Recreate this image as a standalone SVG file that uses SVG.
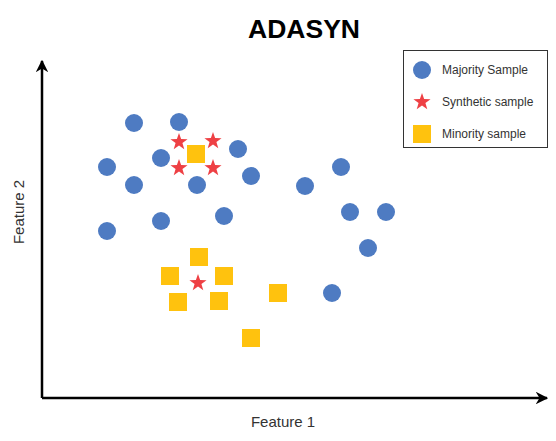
<svg xmlns="http://www.w3.org/2000/svg" xmlns:xlink="http://www.w3.org/1999/xlink" width="556" height="441" viewBox="0 0 556 441">
<style>
.maj{fill:#4E7BC2}
.min{fill:#FFC20E}
.syn{fill:#EE4044}
.lbl{font-family:"Liberation Sans",Arial,sans-serif;font-size:12px;fill:#333333}
.axl{font-family:"Liberation Sans",Arial,sans-serif;font-size:15px;fill:#333333}
.title{font-family:"Liberation Sans",Arial,sans-serif;font-size:26.5px;font-weight:bold;fill:#000000}
.axis{stroke:#000000;stroke-width:2.5;fill:none}
</style>
<defs>
<marker id="arr" viewBox="0 0 10 10" refX="9" refY="5" markerWidth="5" markerHeight="5" orient="auto" markerUnits="strokeWidth">
<path d="M0,0 L10,5 L0,10 L3,5 Z" fill="#000000"/>
</marker>
<circle id="c" r="9"/>
<rect id="s" x="-9" y="-9" width="18" height="18"/>
<polygon id="st" points="0,-9 2.12,-2.91 8.56,-2.78 3.42,1.11 5.29,7.28 0,3.6 -5.29,7.28 -3.42,1.11 -8.56,-2.78 -2.12,-2.91"/>
</defs>
<rect width="556" height="441" fill="#ffffff"/>
<text id="title" class="title" x="304" y="38" text-anchor="middle">ADASYN</text>
<g id="connectors">
<line class="axis" x1="42" y1="398" x2="42" y2="61" marker-end="url(#arr)"/>
<line class="axis" x1="42" y1="398" x2="547" y2="398" marker-end="url(#arr)"/>
</g>
<text id="xlabel" class="axl" x="283" y="427" text-anchor="middle">Feature 1</text>
<text id="ylabel" class="axl" transform="translate(24,212) rotate(-90)" text-anchor="middle">Feature 2</text>
<g id="majority">
<use href="#c" class="maj" x="134" y="123"/>
<use href="#c" class="maj" x="179" y="122"/>
<use href="#c" class="maj" x="161" y="158"/>
<use href="#c" class="maj" x="238" y="149"/>
<use href="#c" class="maj" x="107" y="167"/>
<use href="#c" class="maj" x="251" y="176"/>
<use href="#c" class="maj" x="134" y="185"/>
<use href="#c" class="maj" x="197" y="185"/>
<use href="#c" class="maj" x="161" y="221"/>
<use href="#c" class="maj" x="224" y="216"/>
<use href="#c" class="maj" x="107" y="231"/>
<use href="#c" class="maj" x="341" y="167"/>
<use href="#c" class="maj" x="305" y="186"/>
<use href="#c" class="maj" x="350" y="212"/>
<use href="#c" class="maj" x="386" y="212"/>
<use href="#c" class="maj" x="368" y="248"/>
<use href="#c" class="maj" x="332" y="293"/>
</g>
<g id="minority">
<use href="#s" class="min" x="196" y="154"/>
<use href="#s" class="min" x="199" y="257"/>
<use href="#s" class="min" x="170" y="276"/>
<use href="#s" class="min" x="224" y="276"/>
<use href="#s" class="min" x="178" y="302"/>
<use href="#s" class="min" x="219" y="301"/>
<use href="#s" class="min" x="278" y="293"/>
<use href="#s" class="min" x="251" y="338"/>
</g>
<g id="synthetic">
<use href="#st" class="syn" x="179" y="142"/>
<use href="#st" class="syn" x="213" y="141"/>
<use href="#st" class="syn" x="179" y="168"/>
<use href="#st" class="syn" x="213" y="168"/>
<use href="#st" class="syn" x="198" y="283"/>
</g>
<g id="legend">
<rect x="403.5" y="50.5" width="144" height="97" fill="#ffffff" stroke="#333333" stroke-width="1"/>
<use href="#c" class="maj" x="422" y="70"/>
<text class="lbl" x="442" y="74">Majority Sample</text>
<use href="#st" class="syn" x="422" y="102"/>
<text class="lbl" x="442" y="106">Synthetic sample</text>
<use href="#s" class="min" x="422" y="134"/>
<text class="lbl" x="442" y="138">Minority sample</text>
</g>
</svg>
